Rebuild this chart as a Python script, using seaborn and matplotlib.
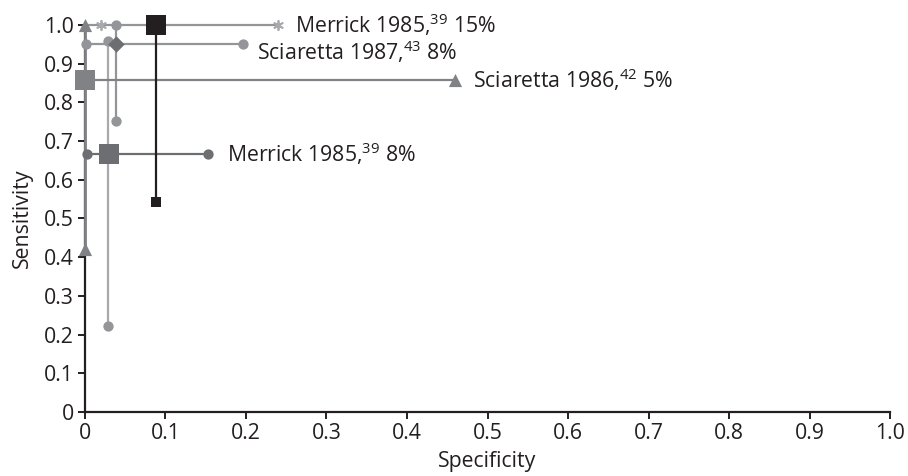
import matplotlib
matplotlib.use("Agg")
import matplotlib.pyplot as plt
import seaborn as sns
import pandas as pd

# ---- data ----
tick_vals = [0, 0.1, 0.2, 0.3, 0.4, 0.5, 0.6, 0.7, 0.8, 0.9, 1.0]
tick_labels = ["0", "0.1", "0.2", "0.3", "0.4", "0.5", "0.6", "0.7", "0.8", "0.9", "1.0"]

# Sciaretta 1986 (5%)
a_point = (0.0, 0.857)
a_spec_ci = [0.0, 0.46]
a_sens_ci = [0.42, 1.0]

# Merrick 1985 (8%)
b_point = (0.030, 0.667)
b_spec_ci = [0.003, 0.153]
b_sens_ci = [0.223, 0.959]

# Sciaretta 1987 (8%)
c_point = (0.039, 0.951)
c_spec_ci = [0.001, 0.196]
c_sens_ci = [0.753, 1.0]

# Merrick 1985 (15%)
d_point = (0.088, 1.0)
d_spec_ci = [0.0195, 0.24]
d_spec_line = [0.0, 0.24]
d_sens_ci = [0.543, 1.0]

labels = ["Merrick 1985,$^{39}$ 15%", "Sciaretta 1987,$^{43}$ 8%",
          "Sciaretta 1986,$^{42}$ 5%", "Merrick 1985,$^{39}$ 8%"]
label_x = [0.261, 0.214, 0.482, 0.177]
label_y = [1.0, 0.931, 0.858, 0.668]

# ---- style ----
sns.set_theme(style="ticks")
plt.rcParams["font.family"] = ["Open Sans", "DejaVu Sans"]
plt.rcParams["mathtext.fontset"] = "custom"
plt.rcParams["mathtext.rm"] = "Open Sans"
plt.rcParams["mathtext.it"] = "Open Sans"
plt.rcParams["mathtext.bf"] = "Open Sans"

BLACK = "#231f20"
DARK = "#6d6e71"
MED = "#808285"
LIGHT = "#939598"
PALE = "#a7a9ac"
TXT = "#231f20"
FS = 15.3

fig = plt.figure(figsize=(9.08, 4.76), dpi=100)
ax = fig.add_axes([0.0936, 0.1345, 0.8866, 0.813])

lw = 1.6

def seg(xs, ys, color, z, w=lw):
    ax.plot(xs, ys, color=color, lw=w, zorder=z, clip_on=False, solid_capstyle="butt")

def pts(xs, ys, color, marker, size, z, lwm=0):
    df = pd.DataFrame({"x": xs, "y": ys})
    sns.scatterplot(data=df, x="x", y="y", ax=ax, color=color, marker=marker,
                    s=size, linewidth=lwm, edgecolor=color, zorder=z,
                    clip_on=False, legend=False)

# vertical (sensitivity) lines
seg([a_point[0]] * 2, a_sens_ci, MED, 3, w=2.0)
seg([b_point[0] - 0.001] * 2, b_sens_ci, PALE, 3)
seg([c_point[0] - 0.0005] * 2, c_sens_ci, LIGHT, 3)
seg([d_point[0]] * 2, d_sens_ci, BLACK, 4)

# horizontal (specificity) lines
seg(a_spec_ci, [a_point[1]] * 2, MED, 3)
seg(b_spec_ci, [b_point[1]] * 2, DARK, 3)
seg(c_spec_ci, [c_point[1]] * 2, LIGHT, 3)
seg(d_spec_line, [d_point[1]] * 2, LIGHT, 3)

# CI end markers
pts([a_point[0]] * 2, a_sens_ci, MED, "^", 90, 5)
pts([a_spec_ci[1]], [a_point[1]], MED, "^", 90, 5)
pts(b_spec_ci, [b_point[1]] * 2, DARK, "o", 55, 5)
pts([b_point[0] - 0.001] * 2, b_sens_ci, LIGHT, "o", 55, 5)
pts(c_spec_ci, [c_point[1]] * 2, LIGHT, "o", 55, 5)
pts([c_point[0] - 0.0005] * 2, c_sens_ci, LIGHT, "o", 55, 5)
pts(d_spec_ci, [d_point[1]] * 2, PALE, (6, 2, 0), 45, 5, lwm=1.3)
pts([d_point[0]], [d_sens_ci[0]], BLACK, "s", 55, 5)

# point estimates
pts([a_point[0]], [a_point[1]], MED, "s", 190, 6)
pts([b_point[0]], [b_point[1]], DARK, "s", 190, 6)
pts([c_point[0]], [c_point[1]], DARK, "D", 70, 6)
pts([d_point[0]], [d_point[1]], BLACK, "s", 190, 6)

# labels
for t, x, y in zip(labels, label_x, label_y):
    ax.text(x, y, t, fontsize=FS, color=TXT, va="center", ha="left", zorder=7)

ax.set_xlim(0, 1.0)
ax.set_ylim(0, 1.0)
ax.set_xticks(tick_vals)
ax.set_xticklabels(tick_labels)
ax.set_yticks(tick_vals)
ax.set_yticklabels(tick_labels)
ax.tick_params(axis="both", direction="out", length=5, width=1.4, color=TXT,
               labelsize=FS, labelcolor=TXT, pad=3)
for s in ["left", "bottom"]:
    ax.spines[s].set_linewidth(1.6)
    ax.spines[s].set_color(TXT)
    ax.spines[s].set_zorder(1)
sns.despine(ax=ax)
ax.set_xlabel("Specificity", fontsize=FS, color=TXT, labelpad=5)
ax.set_ylabel("Sensitivity", fontsize=FS, color=TXT, labelpad=8)

fig.savefig("out.png", dpi=100)
